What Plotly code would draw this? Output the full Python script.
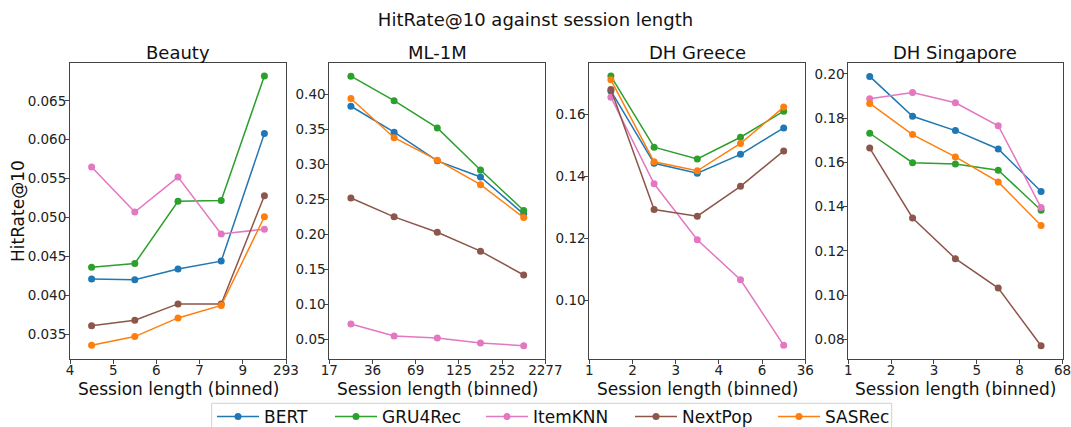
import plotly.graph_objects as go

models = ["BERT", "GRU4Rec", "ItemKNN", "NextPop", "SASRec"]
colors = {"BERT": "#1f77b4", "GRU4Rec": "#2ca02c", "ItemKNN": "#e377c2",
          "NextPop": "#8c564b", "SASRec": "#ff7f0e"}

datasets = ["Beauty", "ML-1M", "DH Greece", "DH Singapore"]

beauty_edges = ["4", "5", "6", "7", "9", "293"]
ml1m_edges = ["17", "36", "69", "125", "252", "2277"]
greece_edges = ["1", "2", "3", "4", "6", "36"]
singapore_edges = ["1", "2", "3", "5", "8", "68"]

beauty = {
    "BERT":    [0.0421, 0.0420, 0.0434, 0.0444, 0.0608],
    "GRU4Rec": [0.0436, 0.0441, 0.0521, 0.0522, 0.0682],
    "ItemKNN": [0.0565, 0.0507, 0.0552, 0.0479, 0.0485],
    "NextPop": [0.0361, 0.0368, 0.0389, 0.0389, 0.0528],
    "SASRec":  [0.0336, 0.0347, 0.0371, 0.0387, 0.0501],
}
ml1m = {
    "BERT":    [0.383, 0.346, 0.305, 0.282, 0.229],
    "GRU4Rec": [0.426, 0.391, 0.352, 0.292, 0.234],
    "ItemKNN": [0.072, 0.055, 0.052, 0.045, 0.041],
    "NextPop": [0.252, 0.225, 0.203, 0.176, 0.142],
    "SASRec":  [0.394, 0.338, 0.306, 0.271, 0.224],
}
greece = {
    "BERT":    [0.1675, 0.1442, 0.1410, 0.1471, 0.1556],
    "GRU4Rec": [0.1723, 0.1494, 0.1456, 0.1526, 0.1610],
    "ItemKNN": [0.1655, 0.1376, 0.1196, 0.1067, 0.0856],
    "NextPop": [0.1680, 0.1293, 0.1272, 0.1368, 0.1482],
    "SASRec":  [0.1711, 0.1447, 0.1418, 0.1506, 0.1623],
}
singapore = {
    "BERT":    [0.1989, 0.1809, 0.1744, 0.1661, 0.1469],
    "GRU4Rec": [0.1732, 0.1599, 0.1593, 0.1565, 0.1384],
    "ItemKNN": [0.1888, 0.1916, 0.1870, 0.1766, 0.1396],
    "NextPop": [0.1665, 0.1349, 0.1165, 0.1032, 0.0771],
    "SASRec":  [0.1867, 0.1726, 0.1625, 0.1512, 0.1315],
}

panels = [
    (beauty, beauty_edges, [0.03186, 0.0699], [0.035, 0.040, 0.045, 0.050, 0.055, 0.060, 0.065], "{:.3f}"),
    (ml1m, ml1m_edges, [0.0224, 0.4452], [0.05, 0.10, 0.15, 0.20, 0.25, 0.30, 0.35, 0.40], "{:.2f}"),
    (greece, greece_edges, [0.0813, 0.1766], [0.10, 0.12, 0.14, 0.16], "{:.2f}"),
    (singapore, singapore_edges, [0.07126, 0.2051], [0.08, 0.10, 0.12, 0.14, 0.16, 0.18, 0.20], "{:.2f}"),
]

x_domains = [(70, 286), (329.3, 545.3), (589.3, 805.3), (848.3, 1062.5)]
W, H = 1071, 427
y_dom = [1 - 358.7 / H, 1 - 62.7 / H]
legend_line_x = [217, 335, 486, 635, 778]   # left end of each legend line sample (px)

fig = go.Figure()
font = "DejaVu Sans, Arial, sans-serif"

for i, (data, edges, yr, yticks, fmt) in enumerate(panels):
    n = i + 1
    xa = "x" if n == 1 else f"x{n}"
    ya = "y" if n == 1 else f"y{n}"
    npts = len(edges) - 1
    xs = [k + 0.5 for k in range(npts)]
    for j, m in enumerate(models):
        fig.add_trace(go.Scatter(
            x=xs, y=data[m], mode="lines+markers", name=m,
            line=dict(color=colors[m], width=1.5),
            marker=dict(color=colors[m], size=7),
            showlegend=(i == 0), legendgroup=m,
            legend="legend" if j == 0 else f"legend{j + 1}",
            xaxis=xa, yaxis=ya,
        ))
    d = x_domains[i]
    xkey = "xaxis" if n == 1 else f"xaxis{n}"
    ykey = "yaxis" if n == 1 else f"yaxis{n}"
    fig.layout[xkey] = dict(
        domain=[d[0] / W, d[1] / W], range=[0, npts], anchor=ya, automargin=False,
        tickmode="array", tickvals=list(range(len(edges))), ticktext=edges,
        showline=True, mirror=True, linecolor="#444", linewidth=1,
        ticks="outside", ticklen=4, tickcolor="#444", showgrid=False, zeroline=False,
        tickfont=dict(size=13.5, color="#222"), ticklabelstandoff=-5,
        ticklabeloverflow="allow",
    )
    fig.layout[ykey] = dict(
        domain=y_dom, range=yr, anchor=xa, automargin=False,
        tickmode="array", tickvals=yticks, ticktext=[fmt.format(v) for v in yticks],
        showline=True, mirror=True, linecolor="#444", linewidth=1,
        ticks="outside", ticklen=4, tickcolor="#444", showgrid=False, zeroline=False,
        tickfont=dict(size=13.5, color="#222"), ticklabelstandoff=-4,
        ticklabeloverflow="allow",
    )
    fig.add_annotation(
        text=datasets[i], xref="paper", yref="paper",
        x=(d[0] + d[1]) / 2 / W, y=1 - 52 / H, xanchor="center", yanchor="middle",
        showarrow=False, font=dict(size=18, color="#111"),
    )
    fig.add_annotation(
        text="Session length (binned)", xref="paper", yref="paper",
        x=(d[0] + d[1]) / 2 / W, y=1 - 389 / H, xanchor="center", yanchor="middle",
        showarrow=False, font=dict(size=17, color="#111"),
    )

fig.add_annotation(
    text="HitRate@10", xref="paper", yref="paper", textangle=-90,
    x=17.5 / W, y=1 - 211.5 / H, xanchor="center", yanchor="middle",
    showarrow=False, font=dict(size=17, color="#111"),
)

# legend frame
fig.add_shape(type="rect", xref="paper", yref="paper",
              x0=211.7 / W, x1=891.7 / W, y0=1 - 440 / H, y1=1 - 403.3 / H,
              line=dict(color="#d0d0d0", width=1), fillcolor="rgba(255,255,255,0.8)", layer="below")

legends = {}
for j, lx in enumerate(legend_line_x):
    key = "legend" if j == 0 else f"legend{j + 1}"
    legends[key] = dict(
        x=(lx - 5) / W, xanchor="left", y=1 - 417 / H, yanchor="middle",
        bgcolor="rgba(0,0,0,0)", borderwidth=0, font=dict(size=17, color="#111"),
        itemwidth=42, orientation="h",
    )

fig.update_layout(
    width=W, height=H,
    margin=dict(l=0, r=0, t=0, b=0, autoexpand=False),
    paper_bgcolor="white", plot_bgcolor="white",
    font=dict(family=font),
    title=dict(text="HitRate@10 against session length", x=0.5, xanchor="center",
               y=1 - 20 / H, yanchor="middle", font=dict(size=18, color="#111")),
    **legends,
)

fig.write_html("out.html", config={"displayModeBar": False},
               post_script="document.body.style.margin='0px';")
